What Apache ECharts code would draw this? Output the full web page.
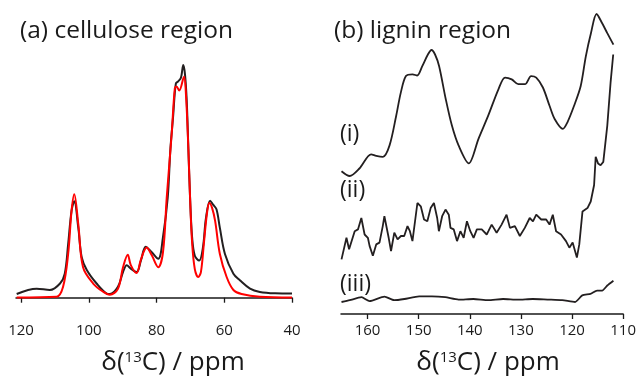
<!DOCTYPE html>
<html>
<head>
<meta charset="utf-8">
<script src="https://cdn.jsdelivr.net/npm/echarts@6/dist/echarts.min.js"></script>
<style>
  html, body { margin: 0; padding: 0; background: #fff; }
  #chart { width: 639px; height: 381px; }
</style>
</head>
<body>
<div id="chart"></div>
<script>
// (a) cellulose region: chemical shift (ppm) and normalised intensity
const cellBlackPpm = [121.3,115.4,111.5,108.5,107.1,106.1,105.1,104.3,103.1,102.1,100.6,97.7,94.7,93.8,91.4,89.9,88.8,87.6,85.9,84.6,83.2,81.4,79.5,78.1,76.7,75.9,75.1,74.3,73.6,72.8,72.1,71.6,71.1,70.6,70.1,69.5,68.7,67.4,66.3,65.4,64.2,63.3,62.3,61.3,59.8,57.3,55.4,52.4,49.5,45.0,40.0];
const cellBlackInt = [0.016,0.039,0.033,0.061,0.103,0.23,0.373,0.414,0.30,0.174,0.119,0.061,0.018,0.016,0.047,0.11,0.139,0.125,0.11,0.16,0.219,0.195,0.167,0.26,0.43,0.64,0.78,0.92,0.93,0.945,1.0,0.96,0.85,0.64,0.43,0.26,0.18,0.16,0.216,0.343,0.417,0.40,0.38,0.30,0.188,0.103,0.075,0.039,0.025,0.019,0.018];

const cellRedPpm = [121.3,109.5,107.6,106.1,105.1,104.3,103.1,101.7,98.7,95.7,93.8,91.4,89.9,88.5,87.6,85.9,84.6,82.9,81.4,79.5,78.1,77.0,75.5,74.6,74.1,73.3,71.9,71.3,70.6,70.1,69.5,68.7,67.7,66.9,66.0,65.1,64.4,63.6,62.7,61.3,59.3,57.3,54.9,49.5,40.0];
const cellRedInt = [0.001,0.004,0.047,0.188,0.373,0.445,0.315,0.131,0.061,0.025,0.013,0.038,0.131,0.185,0.14,0.106,0.165,0.216,0.182,0.131,0.195,0.428,0.71,0.90,0.908,0.89,0.95,0.87,0.64,0.43,0.237,0.123,0.089,0.11,0.237,0.364,0.407,0.386,0.33,0.188,0.089,0.033,0.016,0.004,0.001];

const cellTicks = [40, 60, 80, 100, 120];

// (b) lignin region: three spectra (i), (ii), (iii)
const ligIPpm = [165.1,163.5,161.6,159.3,158.3,157.0,155.7,154.4,153.5,152.5,151.2,150.3,149.3,148.2,147.5,146.8,146.0,144.7,143.5,142.2,140.2,138.3,136.4,134.4,133.1,131.8,130.5,129.2,128.0,127.0,125.7,124.4,123.4,121.8,120.9,119.6,118.3,117.3,116.3,115.2,114.1,113.1,111.9];
const ligIInt = [0.016,0.0,0.025,0.072,0.067,0.064,0.102,0.201,0.278,0.333,0.339,0.335,0.366,0.405,0.420,0.405,0.366,0.256,0.168,0.102,0.042,0.124,0.201,0.289,0.328,0.322,0.306,0.306,0.333,0.328,0.295,0.234,0.190,0.157,0.179,0.234,0.300,0.399,0.476,0.540,0.509,0.476,0.438];

const ligIIPpm = [165.10,164.13,163.62,162.52,161.88,161.22,160.58,159.94,159.61,158.97,158.31,157.67,157.03,156.71,155.87,155.41,154.77,154.13,153.47,152.83,152.19,151.72,151.22,150.25,149.59,148.95,148.31,147.66,147.02,146.38,146.05,145.41,144.75,144.11,143.78,143.14,142.50,141.84,141.20,140.56,139.90,139.26,138.62,137.66,136.69,136.36,135.72,134.75,133.78,132.81,132.15,131.18,130.21,129.24,128.28,127.64,127.00,126.03,125.06,124.40,123.76,123.12,122.15,121.18,120.52,119.88,119.05,118.58,117.95,116.98,116.34,115.68,115.37,114.91,114.41,113.88,113.10,112.46,111.94];
const ligIIInt = [-0.038,0.034,-0.004,0.056,0.062,0.100,0.045,0.034,0.007,-0.026,0.012,0.018,0.073,0.106,0.034,-0.010,0.051,0.029,0.040,0.040,0.073,0.056,0.023,0.150,0.139,0.095,0.089,0.133,0.150,0.100,0.056,0.106,0.128,0.111,0.067,0.062,0.023,0.056,0.034,0.089,0.056,0.034,0.062,0.062,0.045,0.056,0.078,0.051,0.078,0.111,0.067,0.073,0.040,0.067,0.100,0.089,0.111,0.095,0.095,0.078,0.111,0.056,0.045,0.023,0.001,0.018,-0.032,0.012,0.122,0.133,0.155,0.210,0.304,0.282,0.276,0.287,0.408,0.551,0.645];

const ligIIIPpm = [165.1,163.5,161.2,159.6,156.7,154.8,152.8,149.9,147.4,144.8,142.2,139.3,136.4,133.5,130.6,127.7,124.8,121.9,119.4,118.0,116.4,115.1,114.1,113.1,111.9];
const ligIIIInt = [0.0,0.006,0.016,0.003,0.018,0.006,0.010,0.019,0.019,0.016,0.008,0.010,0.006,0.010,0.008,0.010,0.008,0.006,0.0,0.022,0.027,0.038,0.038,0.055,0.071];

const ligTicks = [110, 120, 130, 140, 150, 160];

// vertical offsets used to stack the lignin traces
const ligOffsets = { i: 0.46, ii: 0.22, iii: 0.04 };

const zip = (xs, ys, off) => xs.map((x, k) => [x, ys[k] + (off || 0)]);

const FONT = '"Open Sans", "Noto Sans", sans-serif';
const INK = '#1a1a1a';

function xAxisFor(gridIndex, min, max, ticks, nameShift) {
  return {
    gridIndex, type: 'value', min, max, inverse: true,
    axisLine: { show: true, lineStyle: { color: INK, width: 1.5 } },
    axisTick: { show: true, inside: false, length: 5, lineStyle: { color: INK, width: 1.3 }, customValues: ticks },
    axisLabel: { color: INK, fontSize: 15, fontFamily: FONT, margin: 9, customValues: ticks },
    splitLine: { show: false },
    name: 'δ({sup|13}C) / ppm',
    nameLocation: 'middle',
    nameGap: 36,
    nameTextStyle: {
      color: INK, fontSize: 26, fontFamily: FONT,
      padding: [0, 0, 0, nameShift],
      rich: { sup: { fontSize: 15, fontFamily: FONT, color: INK, verticalAlign: 'top', padding: [0, 0, 9, 0] } }
    }
  };
}

const lineSeries = (name, x, y, data, color, width, smooth) => ({
  name, type: 'line', xAxisIndex: x, yAxisIndex: y, data,
  showSymbol: false, symbol: 'none', smooth, clip: false,
  lineStyle: { color, width }, animation: false
});

const option = {
  animation: false,
  backgroundColor: '#fff',
  grid: [
    { left: 16, width: 276, top: 65, bottom: 64 },
    { left: 341, width: 286, top: 14, bottom: 64 }
  ],
  xAxis: [
    xAxisFor(0, 40, 121.5, cellTicks, 38),
    xAxisFor(1, 110, 165.2, ligTicks, 12)
  ],
  yAxis: [
    { gridIndex: 0, type: 'value', min: -0.07, max: 1, show: false },
    { gridIndex: 1, type: 'value', min: 0, max: 1, show: false }
  ],
  graphic: [
    { type: 'text', left: 20, top: 19, style: { text: '(a) cellulose region', fill: INK, font: '24.5px ' + FONT } },
    { type: 'text', left: 334, top: 19, style: { text: '(b) lignin region', fill: INK, font: '24.5px ' + FONT } },
    { type: 'text', left: 340, top: 123, style: { text: '(i)', fill: INK, font: '23px ' + FONT } },
    { type: 'text', left: 340, top: 179, style: { text: '(ii)', fill: INK, font: '23px ' + FONT } },
    { type: 'text', left: 340, top: 273, style: { text: '(iii)', fill: INK, font: '23px ' + FONT } }
  ],
  series: [
    lineSeries('cellulose black', 0, 0, zip(cellBlackPpm, cellBlackInt), '#231f20', 2, 0.35),
    lineSeries('cellulose red', 0, 0, zip(cellRedPpm, cellRedInt), '#ff0000', 2, 0.35),
    lineSeries('(i)', 1, 1, zip(ligIPpm, ligIInt, ligOffsets.i), '#231f20', 1.8, 0.3),
    lineSeries('(ii)', 1, 1, zip(ligIIPpm, ligIIInt, ligOffsets.ii), '#231f20', 1.8, false),
    lineSeries('(iii)', 1, 1, zip(ligIIIPpm, ligIIIInt, ligOffsets.iii), '#231f20', 1.8, 0.2)
  ]
};

const chart = echarts.init(document.getElementById('chart'), null, { renderer: 'canvas' });
chart.setOption(option);
</script>
</body>
</html>
